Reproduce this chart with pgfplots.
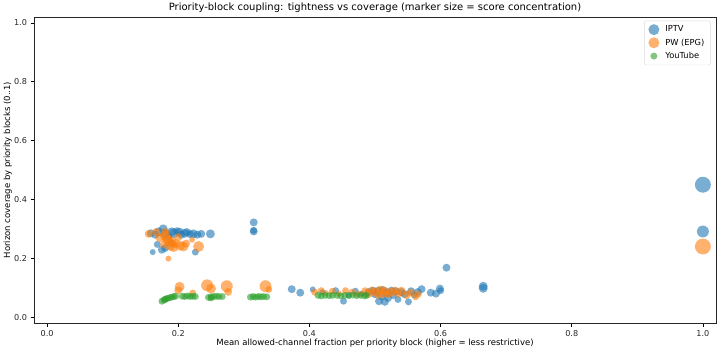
\documentclass[border=0pt]{standalone}
\usepackage{pgfplots}
\pgfplotsset{compat=1.18}
\usepackage{fontspec}
\setmainfont{DejaVu Sans}
\definecolor{cblue}{HTML}{1F77B4}
\definecolor{corange}{HTML}{FF7F0E}
\definecolor{cgreen}{HTML}{2CA02C}
\pgfplotsset{
  bubble/.style={scatter, only marks, mark=*, forget plot,
    scatter/use mapped color={draw=#1, draw opacity=0, fill=#1, fill opacity=0.6},
    mark options={draw=#1, draw opacity=0, fill=#1, fill opacity=0.6},
    visualization depends on={\thisrow{r} \as \rr},
    scatter/@pre marker code/.append style={/tikz/mark size=\rr}},
}
\begin{document}
\begin{tikzpicture}[x=1bp,y=1bp]
\useasboundingbox (0,0) rectangle (719,352);
\begin{axis}[
  at={(34bp,29bp)}, anchor=south west,
  width=682bp, height=306bp, scale only axis,
  xmin=-0.02, xmax=1.02, ymin=-0.02, ymax=1.02,
  xtick={0,0.2,0.4,0.6,0.8,1.0}, ytick={0,0.2,0.4,0.6,0.8,1.0},
  xticklabel style={/pgf/number format/.cd, fixed, fixed zerofill, precision=1},
  yticklabel style={/pgf/number format/.cd, fixed, fixed zerofill, precision=1},
  /pgf/number format/assume math mode=true,
  tick align=outside, tick pos=left, major tick length=3.5bp,
  every tick/.style={black, line width=0.6bp},
  axis line style={line width=0.7bp, black!85},
  ticklabel style={font=\fontsize{8.1bp}{9.5bp}\selectfont, text=black!85},
  title={Priority-block coupling: tightness vs coverage (marker size = score concentration)},
  every axis title/.style={font=\fontsize{10bp}{12bp}\selectfont, at={(axis description cs:0.5,1)}, anchor=center, yshift=9bp},
  xlabel={Mean allowed-channel fraction per priority block (higher = less restrictive)},
  ylabel={Horizon coverage by priority blocks (0..1)},
  every axis x label/.style={font=\fontsize{8.5bp}{10bp}\selectfont, at={(axis description cs:0.5,0)}, anchor=center, yshift=-20bp},
  every axis y label/.style={font=\fontsize{8.5bp}{10bp}\selectfont, at={(axis description cs:-0.0385,0.5)}, anchor=center, rotate=90},
  legend style={at={(0.992,0.988)}, anchor=north east, draw=black!15, rounded corners=2pt,
    font=\fontsize{8.3bp}{10bp}\selectfont, row sep=1.5bp, inner xsep=4bp, inner ysep=3bp, column sep=4bp},
  legend cell align=left,
]
\addlegendimage{only marks, mark=*, mark size=5.5, draw=cblue, draw opacity=0, fill=cblue, fill opacity=0.6}
\addlegendentry{IPTV}
\addlegendimage{only marks, mark=*, mark size=5.5, draw=corange, draw opacity=0, fill=corange, fill opacity=0.6}
\addlegendentry{PW (EPG)}
\addlegendimage{only marks, mark=*, mark size=3.5, draw=cgreen, draw opacity=0, fill=cgreen, fill opacity=0.6}
\addlegendentry{YouTube}

\addplot[bubble=cblue] table {
x y r
0.158 0.285 4
0.165 0.280 4
0.170 0.290 4.5
0.177 0.300 4.5
0.180 0.283 5
0.185 0.275 4
0.190 0.290 4.5
0.193 0.285 5
0.198 0.292 4
0.202 0.289 4.5
0.205 0.280 4
0.210 0.285 4.5
0.213 0.289 4
0.218 0.282 4
0.223 0.283 4.5
0.229 0.280 4
0.235 0.283 4
0.249 0.283 4.5
0.161 0.221 3
0.168 0.247 3.5
0.175 0.229 4
0.226 0.221 3.5
0.180 0.235 4
0.190 0.250 4
0.315 0.322 4
0.315 0.291 4
0.315 0.295 3.5
0.373 0.095 4
0.386 0.083 4
0.405 0.094 3
0.420 0.085 3
0.440 0.090 3.5
0.452 0.054 3.5
0.460 0.075 3
0.470 0.088 3.5
0.480 0.080 3
0.490 0.085 4
0.497 0.090 4
0.500 0.078 4
0.505 0.088 4.5
0.506 0.054 4
0.510 0.070 4
0.512 0.092 4
0.515 0.052 4
0.518 0.083 4.5
0.520 0.065 4
0.525 0.090 4
0.528 0.075 4
0.532 0.088 4
0.535 0.060 3.5
0.540 0.085 4
0.545 0.078 4
0.551 0.052 3.5
0.555 0.088 4
0.560 0.075 3.5
0.565 0.085 4
0.571 0.095 4
0.585 0.083 4
0.593 0.080 4
0.599 0.097 4
0.600 0.090 3.5
0.609 0.168 4
0.665 0.105 4.5
0.665 0.098 4.5
1.000 0.450 8
1.000 0.291 6
};

\addplot[bubble=corange] table {
x y r
0.155 0.283 4
0.166 0.289 4
0.172 0.270 4.5
0.178 0.247 4
0.180 0.277 5.5
0.183 0.265 5
0.185 0.260 5
0.185 0.199 3
0.188 0.244 5.5
0.190 0.255 5
0.193 0.238 5
0.196 0.250 4.5
0.200 0.272 4
0.203 0.243 5
0.208 0.240 5
0.212 0.250 4
0.221 0.263 3
0.231 0.240 5.5
0.180 0.290 4
0.200 0.091 4
0.202 0.103 5
0.222 0.082 3.5
0.244 0.108 6
0.250 0.097 5
0.274 0.105 6
0.276 0.086 4
0.333 0.105 6
0.338 0.094 3.5
0.408 0.085 3.5
0.418 0.090 3.5
0.425 0.082 3
0.435 0.088 3.5
0.445 0.080 3
0.455 0.090 3.5
0.465 0.085 3.5
0.475 0.078 3.5
0.485 0.088 4
0.490 0.080 4.5
0.495 0.090 4
0.500 0.085 4.5
0.505 0.075 4
0.508 0.092 4.5
0.512 0.082 5
0.515 0.088 4.5
0.520 0.078 4
0.525 0.085 4.5
0.530 0.090 4
0.535 0.080 4
0.540 0.088 4.5
0.548 0.075 4
0.555 0.083 4
0.562 0.069 3.5
0.566 0.078 3.5
1.000 0.240 8
};

\addplot[bubble=cgreen] table {
x y r
0.175 0.054 3.5
0.178 0.058 3.5
0.180 0.060 3.5
0.181 0.062 3.5
0.184 0.064 3.5
0.187 0.066 3.5
0.190 0.068 3.5
0.193 0.070 3.5
0.196 0.071 3.5
0.206 0.071 3.5
0.210 0.070 3.5
0.214 0.072 3.5
0.218 0.070 3.5
0.222 0.071 3.5
0.226 0.070 3.5
0.246 0.067 3.5
0.250 0.069 3.5
0.250 0.065 3.5
0.254 0.070 3.5
0.258 0.071 3.5
0.262 0.070 3.5
0.267 0.070 3.5
0.310 0.068 3.5
0.314 0.070 3.5
0.318 0.068 3.5
0.322 0.070 3.5
0.326 0.069 3.5
0.330 0.070 3.5
0.335 0.069 3.5
0.413 0.074 3.5
0.418 0.072 3.5
0.424 0.074 3.5
0.430 0.073 3.5
0.435 0.074 3.5
0.442 0.074 3.5
0.448 0.072 3.5
0.454 0.074 3.5
0.460 0.073 3.5
0.466 0.075 3.5
0.472 0.073 3.5
0.478 0.074 3.5
0.484 0.072 3.5
0.487 0.074 3.5
};
\end{axis}
\end{tikzpicture}
\end{document}
